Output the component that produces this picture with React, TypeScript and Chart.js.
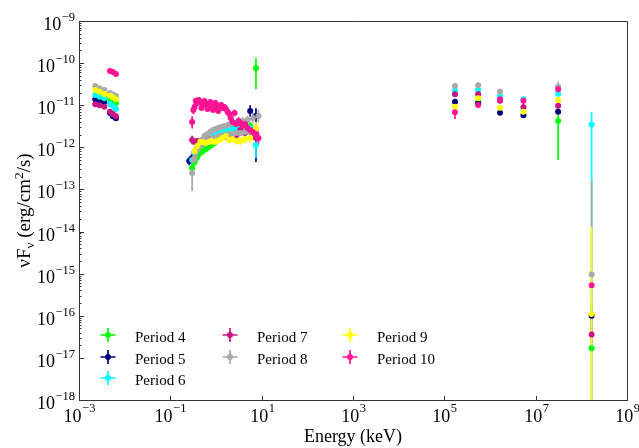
import React, { useEffect, useRef } from "react";
import { Chart, registerables } from "chart.js";

Chart.register(...registerables);

// ---------- data ----------
const PERIODS = ["Period 4", "Period 5", "Period 6", "Period 7", "Period 8", "Period 9", "Period 10"];
const COLORS = ["#00ff00", "#000080", "#00ffff", "#c71585", "#a9a9a9", "#ffff00", "#ff1493"];

// optical / UV photometry energies (keV)
const UVOT_E = [2.27e-3, 2.82e-3, 3.58e-3, 4.77e-3, 5.52e-3, 6.43e-3];
// X-ray energies (keV)
const XRT_E = [0.26, 0.3, 0.34, 0.39, 0.45, 0.52, 0.6, 0.7, 0.8, 0.92, 1.05, 1.2, 1.4, 1.65, 1.95, 2.3, 2.8, 3.4, 4.3, 5.6, 7.5];
const XRT_E_MID = [0.32, 0.36, 0.42, 0.48, 0.56, 0.65, 0.75, 0.86, 0.98, 1.12, 1.3, 1.52, 1.8, 2.1, 2.55, 3.1, 3.85, 4.9, 6.4, 8.5];
// gamma-ray energies (keV)
const HE_E = [1.71e5, 5.5e5, 1.66e6, 5.4e6, 3.1e7, 1.68e8];

// fluxes (erg/cm2/s)
const P4_UVOT = [null, null, null, 1.4e-11, 1.26e-11, 1.13e-11];
const P5_UVOT = [1.38e-11, 1.26e-11, 1.21e-11, 6.5e-12, 5.5e-12, 4.9e-12];
const P6_UVOT = [1.75e-11, 1.59e-11, 1.46e-11, 1.07e-11, 9.6e-12, 8.1e-12];
const P7_UVOT = [1.05e-11, 9.95e-12, 9.2e-12, 7.0e-12, 6.2e-12, 5.5e-12];
const P8_UVOT = [2.86e-11, 2.52e-11, 2.3e-11, 1.95e-11, 1.8e-11, 1.66e-11];
const P9_UVOT = [2.3e-11, 2.09e-11, 1.85e-11, 1.68e-11, 1.54e-11, 1.38e-11];
const P10_UVOT = [null, null, null, 6.49e-11, 6.15e-11, 5.51e-11];

const P4_XRT = [null, 3.22e-13, 4.48e-13, 5.88e-13, 7.32e-13, 8.17e-13, 9.11e-13, 1.02e-12, 1.13e-12, 1.26e-12, 1.49e-12, 1.76e-12, 1.96e-12, 2.19e-12, 2.44e-12, 2.58e-12, 2.72e-12, 2.87e-12, 3.04e-12, 3.21e-12, 7.5e-11];
const P5_XRT = [4.73e-13, 5.57e-13, 7.74e-13, 9.62e-13, 1.2e-12, 1.41e-12, 1.66e-12, 1.86e-12, 2.07e-12, 2.19e-12, 2.31e-12, 2.44e-12, 2.58e-12, 2.72e-12, 2.87e-12, 2.87e-12, 3.04e-12, 3.21e-12, 3.58e-12, 7.28e-12, 5.54e-12];
const P6_XRT = [null, 4.99e-13, 7.32e-13, 9.62e-13, 1.2e-12, 1.41e-12, 1.66e-12, 1.86e-12, 1.96e-12, 2.07e-12, 2.19e-12, 2.31e-12, 2.44e-12, 2.58e-12, 2.72e-12, 2.72e-12, 2.87e-12, 2.87e-12, 3.04e-12, 2.87e-12, 1.13e-12];
const P7_XRT = [null, 1.49e-12, 1.34e-12, 1.41e-12, 1.41e-12, 1.49e-12, 1.49e-12, 1.57e-12, 1.57e-12, 1.66e-12, 1.66e-12, 1.66e-12, 1.76e-12, 1.76e-12, 1.76e-12, 1.86e-12, 1.96e-12, 2.58e-12, 2.19e-12, 2.44e-12, 1.66e-12];
const P8_XRT = [null, 2.45e-13, 5.57e-13, 8.63e-13, 1.07e-12, 1.2e-12, 1.34e-12, 1.49e-12, 1.57e-12, 1.66e-12, 1.76e-12, 1.86e-12, 1.96e-12, 1.96e-12, 2.07e-12, 2.07e-12, 2.19e-12, 2.19e-12, 2.31e-12, 2.31e-12, 2.58e-12];
const P8_XRT_MID = [4.99e-13, 7.32e-13, 1.07e-12, 1.49e-12, 1.86e-12, 2.07e-12, 2.31e-12, 2.58e-12, 2.72e-12, 2.87e-12, 3.04e-12, 3.21e-12, 3.39e-12, 3.58e-12, 3.78e-12, 3.99e-12, 4.22e-12, 4.45e-12, 4.97e-12, 5.54e-12];
const P9_XRT = [null, null, 8.17e-13, 1.07e-12, 1.34e-12, 1.34e-12, 1.26e-12, 1.34e-12, 1.41e-12, 1.34e-12, 1.41e-12, 1.49e-12, 1.66e-12, 1.86e-12, 1.49e-12, 1.57e-12, 1.41e-12, 1.41e-12, 1.57e-12, 1.66e-12, 2.87e-12];
const P10_XRT = [null, 3.99e-12, 9.06e-12, 1.128e-11, 1.191e-11, 1.068e-11, 1.011e-11, 1.068e-11, 9.57e-12, 1.011e-11, 9.06e-12, 9.57e-12, 8.58e-12, 8.12e-12, 6.18e-12, 3.99e-12, 3.58e-12, 3.78e-12, 3.58e-12, 2.58e-12, 2.07e-12];
const P10_XRT_MID = [7.69e-12, 1.259e-11, 1.33e-11, 8.58e-12, 1.259e-11, 8.12e-12, 1.191e-11, 7.69e-12, 1.128e-11, 7.28e-12, 1.011e-11, 9.06e-12, 6.89e-12, 4.97e-12, 6.53e-12, 4.22e-12, 3.21e-12, 2.87e-12, 2.31e-12, 1.66e-12];

const P4_HE = [null, 1.21e-11, null, null, 4.2e-12, 1.7e-17];
const P5_HE = [1.21e-11, 1.11e-11, 6.6e-12, 5.75e-12, 7.0e-12, 1.0e-16];
const P6_HE = [2.21e-11, 2.33e-11, 1.68e-11, 1.38e-11, 1.87e-11, 3.5e-12];
const P7_HE = [1.82e-11, 1.82e-11, 1.28e-11, 8.9e-12, 9.7e-12, 3.6e-17];
const P8_HE = [2.86e-11, 2.97e-11, 2.09e-11, null, 2.75e-11, 9.6e-16];
const P9_HE = [9.2e-12, 1.46e-11, 8.7e-12, 7.0e-12, 1.33e-11, 1.1e-16];
const P10_HE = [6.8e-12, 1.01e-11, 1.38e-11, 1.28e-11, 2.39e-11, 5.3e-16];

// symmetric errors (dex)
const P4_XRT_ERR = [0, 0.12, 0.1, 0.09, 0.08, 0.08, 0.07, 0.07, 0.07, 0.06, 0.06, 0.06, 0.06, 0.06, 0.06, 0.07, 0.07, 0.08, 0.09, 0.1, 0];
const P5_XRT_ERR = [0.1, 0.1, 0.08, 0.07, 0.06, 0.06, 0.05, 0.05, 0.05, 0.05, 0.05, 0.05, 0.05, 0.05, 0.06, 0.06, 0.07, 0.08, 0.1, 0.14, 0];
const P6_XRT_ERR = [0, 0.1, 0.08, 0.07, 0.06, 0.06, 0.05, 0.05, 0.05, 0.05, 0.05, 0.05, 0.05, 0.05, 0.06, 0.06, 0.07, 0.08, 0.1, 0.14, 0.3];
const P7_XRT_ERR = [0, 0.1, 0.08, 0.07, 0.06, 0.06, 0.06, 0.06, 0.06, 0.06, 0.06, 0.06, 0.06, 0.06, 0.07, 0.07, 0.08, 0.1, 0.12, 0.14, 0.18];
const P8_XRT_ERR = [0, 0, 0.12, 0.08, 0.07, 0.06, 0.06, 0.06, 0.05, 0.05, 0.05, 0.05, 0.05, 0.05, 0.06, 0.06, 0.07, 0.08, 0.1, 0.12, 0.15];
const P8_XRT_MID_ERR = [0.1, 0.08, 0.07, 0.06, 0.06, 0.05, 0.05, 0.05, 0.05, 0.05, 0.05, 0.05, 0.06, 0.06, 0.07, 0.08, 0.09, 0.1, 0.12, 0.15];
const P9_XRT_ERR = [0, 0, 0.1, 0.08, 0.07, 0.06, 0.06, 0.06, 0.06, 0.06, 0.06, 0.06, 0.06, 0.06, 0.07, 0.07, 0.08, 0.09, 0.1, 0.12, 0.15];
const P10_XRT_ERR = [0, 0, 0.1, 0.08, 0.07, 0.07, 0.06, 0.06, 0.06, 0.06, 0.06, 0.06, 0.06, 0.07, 0.08, 0.08, 0.09, 0.1, 0.1, 0.12, 0.14];
const P10_XRT_MID_ERR = [0.1, 0.08, 0.07, 0.07, 0.06, 0.06, 0.06, 0.06, 0.06, 0.06, 0.06, 0.07, 0.07, 0.08, 0.08, 0.09, 0.1, 0.1, 0.12, 0.14];

const P4_HE_ERR = [0, 0.03, 0, 0, 0, 0.1];
const P5_HE_ERR = [0.03, 0.03, 0.03, 0.03, 0.04, 0.2];
const P6_HE_ERR = [0.03, 0.03, 0.03, 0.04, 0.03, 0];
const P7_HE_ERR = [0.03, 0.03, 0.03, 0.04, 0.04, 0.2];
const P8_HE_ERR = [0.03, 0.03, 0.03, 0, 0, 0];
const P9_HE_ERR = [0.03, 0.03, 0.03, 0.03, 0.04, 0];
const P10_HE_ERR = [0, 0.03, 0.03, 0, 0.04, 0];

// asymmetric error bars: [period index, group, point index, lower, upper]  (lower 0 = down to axis)
const ASYM_ERRORS: [number, string, number, number, number][] = [
  [0, "xrt", 20, 2.39e-11, 1.32e-10],
  [1, "xrt", 20, 4.5e-13, 8.5e-12],
  [4, "xrt", 1, 9e-14, 3.6e-13],
  [6, "xrt", 1, 2.8e-12, 5.5e-12],
  [6, "he", 0, 4.7e-12, 7.7e-12],
  [6, "he", 3, 9e-12, 1.6e-11],
  [4, "he", 4, 2.3e-11, 3.6e-11],
  [0, "he", 4, 5.0e-13, 8.6e-12],
  [2, "he", 5, 0, 7.0e-12],
  [4, "he", 5, 0, 1.67e-13],
  [5, "he", 5, 0, 1.3e-14],
];

const X_TICK_EXPS = [-3, -1, 1, 3, 5, 7, 9];
const Y_TICK_EXPS = [-9, -10, -11, -12, -13, -14, -15, -16, -17, -18];

// ---------- build ----------
type Pt = { x: number; y: number; lo: number | null; hi: number | null };

function group(pi: number, name: string, es: number[], fs: (number | null)[], errs: number[] | null): Pt[] {
  const out: Pt[] = [];
  es.forEach((e, i) => {
    const f = fs[i];
    if (f == null) return;
    let lo: number | null = null;
    let hi: number | null = null;
    const d = errs ? errs[i] : 0;
    if (d > 0) {
      lo = f / Math.pow(10, d);
      hi = f * Math.pow(10, d);
    }
    const a = ASYM_ERRORS.find((r) => r[0] === pi && r[1] === name && r[2] === i);
    if (a) {
      lo = a[3];
      hi = a[4];
    }
    out.push({ x: e, y: f, lo, hi });
  });
  return out;
}

const PERIOD_POINTS: Pt[][] = [
  [...group(0, "uvot", UVOT_E, P4_UVOT, null), ...group(0, "xrt", XRT_E, P4_XRT, P4_XRT_ERR), ...group(0, "he", HE_E, P4_HE, P4_HE_ERR)],
  [...group(1, "uvot", UVOT_E, P5_UVOT, null), ...group(1, "xrt", XRT_E, P5_XRT, P5_XRT_ERR), ...group(1, "he", HE_E, P5_HE, P5_HE_ERR)],
  [...group(2, "uvot", UVOT_E, P6_UVOT, null), ...group(2, "xrt", XRT_E, P6_XRT, P6_XRT_ERR), ...group(2, "he", HE_E, P6_HE, P6_HE_ERR)],
  [...group(3, "uvot", UVOT_E, P7_UVOT, null), ...group(3, "xrt", XRT_E, P7_XRT, P7_XRT_ERR), ...group(3, "he", HE_E, P7_HE, P7_HE_ERR)],
  [
    ...group(4, "uvot", UVOT_E, P8_UVOT, null),
    ...group(4, "xrt", XRT_E, P8_XRT, P8_XRT_ERR),
    ...group(4, "xrtmid", XRT_E_MID, P8_XRT_MID, P8_XRT_MID_ERR),
    ...group(4, "he", HE_E, P8_HE, P8_HE_ERR),
  ],
  [...group(5, "uvot", UVOT_E, P9_UVOT, null), ...group(5, "xrt", XRT_E, P9_XRT, P9_XRT_ERR), ...group(5, "he", HE_E, P9_HE, P9_HE_ERR)],
  [
    ...group(6, "uvot", UVOT_E, P10_UVOT, null),
    ...group(6, "xrt", XRT_E, P10_XRT, P10_XRT_ERR),
    ...group(6, "xrtmid", XRT_E_MID, P10_XRT_MID, P10_XRT_MID_ERR),
    ...group(6, "he", HE_E, P10_HE, P10_HE_ERR),
  ],
];

const SERIF = '"Liberation Serif", "Times New Roman", serif';
const AXIS_COLOR = "#333333";

// ---------- plugins ----------
const errorBarPlugin = {
  id: "errorBars",
  beforeDatasetsDraw(chart: any) {
    const { ctx, chartArea: ca, scales } = chart;
    const xs = scales.x;
    const ys = scales.y;
    ctx.save();
    ctx.beginPath();
    ctx.rect(ca.left, ca.top, ca.right - ca.left, ca.bottom - ca.top);
    ctx.clip();
    ctx.lineWidth = 1.7;
    chart.data.datasets.forEach((ds: any) => {
      ctx.strokeStyle = ds.backgroundColor;
      ds.data.forEach((p: Pt) => {
        if (p.lo == null || p.hi == null) return;
        const px = xs.getPixelForValue(p.x);
        const yl = p.lo > 0 ? ys.getPixelForValue(p.lo) : ca.bottom + 2;
        const yh = ys.getPixelForValue(p.hi);
        ctx.beginPath();
        ctx.moveTo(px, yl);
        ctx.lineTo(px, yh);
        ctx.stroke();
      });
    });
    ctx.restore();
  },
};

function drawPow(ctx: CanvasRenderingContext2D, exp: number, x: number, baseY: number, supY: number, align: "right" | "center") {
  const base = "10";
  const sup = (exp < 0 ? "\u2212" : "") + Math.abs(exp);
  ctx.font = `18px ${SERIF}`;
  const wb = ctx.measureText(base).width;
  ctx.font = `12.5px ${SERIF}`;
  const ws = ctx.measureText(sup).width;
  const total = wb + ws + 0.5;
  const start = align === "right" ? x - total : x - total / 2;
  ctx.textAlign = "left";
  ctx.textBaseline = "alphabetic";
  ctx.font = `18px ${SERIF}`;
  ctx.fillText(base, start, baseY);
  ctx.font = `12.5px ${SERIF}`;
  ctx.fillText(sup, start + wb + 0.5, supY);
}

const decorPlugin = {
  id: "decor",
  afterDraw(chart: any) {
    const { ctx, chartArea: ca, scales } = chart;
    const xs = scales.x;
    const ys = scales.y;
    ctx.save();
    // frame (top & right)
    ctx.strokeStyle = AXIS_COLOR;
    ctx.lineWidth = 1;
    ctx.beginPath();
    ctx.moveTo(ca.left, Math.round(ca.top) + 0.5);
    ctx.lineTo(Math.round(ca.right) + 0.5, Math.round(ca.top) + 0.5);
    ctx.lineTo(Math.round(ca.right) + 0.5, ca.bottom);
    ctx.stroke();

    // y ticks (inward) + labels
    ctx.fillStyle = "#000";
    Y_TICK_EXPS.forEach((e) => {
      const v = Math.pow(10, e);
      const py = Math.round(ys.getPixelForValue(v)) + 0.5;
      ctx.beginPath();
      ctx.moveTo(ca.left, py);
      ctx.lineTo(ca.left + 5, py);
      ctx.stroke();
      if (e > Y_TICK_EXPS[Y_TICK_EXPS.length - 1]) {
        for (let k = 2; k <= 9; k++) {
          const my = Math.round(ys.getPixelForValue(k * v)) + 0.5;
          if (my < ca.top) continue;
          ctx.beginPath();
          ctx.moveTo(ca.left, my);
          ctx.lineTo(ca.left + 2.5, my);
          ctx.stroke();
        }
      }
      drawPow(ctx, e, ca.left - 4, py + 8, py - 0.5, "right");
    });

    // x ticks (inward) + labels
    X_TICK_EXPS.forEach((e) => {
      const px = Math.round(xs.getPixelForValue(Math.pow(10, e))) + 0.5;
      ctx.beginPath();
      ctx.moveTo(px, ca.bottom);
      ctx.lineTo(px, ca.bottom - 4);
      ctx.stroke();
      drawPow(ctx, e, px, ca.bottom + 22, ca.bottom + 12, "center");
    });

    // x title
    ctx.font = `18px ${SERIF}`;
    ctx.textAlign = "center";
    ctx.textBaseline = "alphabetic";
    ctx.fillText("Energy (keV)", (ca.left + ca.right) / 2, ca.bottom + 42);

    // y title: νF_ν (erg/cm^2/s)
    const parts: [string, number, number][] = [
      ["\u03bdF", 19, 0],
      ["\u03bd", 13.3, 4],
      [" (erg/cm", 19, 0],
      ["2", 13.3, -7.5],
      ["/s)", 19, 0],
    ];
    let tw = 0;
    parts.forEach(([t, s]) => {
      ctx.font = `${s}px ${SERIF}`;
      tw += ctx.measureText(t).width;
    });
    ctx.save();
    ctx.translate(30, (ca.top + ca.bottom) / 2);
    ctx.rotate(-Math.PI / 2);
    ctx.textAlign = "left";
    let cx = -tw / 2;
    parts.forEach(([t, s, dy]) => {
      ctx.font = `${s}px ${SERIF}`;
      ctx.fillText(t, cx, dy);
      cx += ctx.measureText(t).width;
    });
    ctx.restore();

    // legend (3 columns, column-major)
    const colX = [108, 230, 350];
    const rowY = [335, 357, 378];
    const perCol = [3, 2, 2];
    let idx = 0;
    perCol.forEach((n, c) => {
      for (let r = 0; r < n; r++) {
        const mx = colX[c];
        const my = rowY[r];
        const col = COLORS[idx];
        ctx.strokeStyle = col;
        ctx.lineWidth = 1.7;
        ctx.beginPath();
        ctx.moveTo(mx - 7.5, my);
        ctx.lineTo(mx + 7.5, my);
        ctx.moveTo(mx, my - 7);
        ctx.lineTo(mx, my + 7);
        ctx.stroke();
        ctx.fillStyle = col;
        ctx.beginPath();
        ctx.arc(mx, my, 3, 0, Math.PI * 2);
        ctx.fill();
        ctx.fillStyle = "#000";
        ctx.font = `15px ${SERIF}`;
        ctx.textAlign = "left";
        ctx.textBaseline = "alphabetic";
        ctx.fillText(PERIODS[idx], mx + 27, my + 6.5);
        idx++;
      }
    });
    ctx.restore();
  },
};

export default function App() {
  const ref = useRef<HTMLCanvasElement | null>(null);
  useEffect(() => {
    if (!ref.current) return;
    const datasets = PERIOD_POINTS.map((pts, i) => ({
      label: PERIODS[i],
      data: pts,
      backgroundColor: COLORS[i],
      borderColor: COLORS[i],
      pointBackgroundColor: COLORS[i],
      pointBorderWidth: 0,
      pointRadius: 3,
      pointHoverRadius: 3,
      showLine: false,
      order: PERIODS.length - 1 - i,
    }));
    const chart = new Chart(ref.current, {
      type: "scatter",
      data: { datasets },
      options: {
        animation: false,
        responsive: false,
        devicePixelRatio: 1,
        events: [],
        layout: { padding: { left: 79, right: 12, top: 21, bottom: 48 } },
        plugins: { legend: { display: false }, tooltip: { enabled: false } },
        scales: {
          x: {
            type: "logarithmic",
            min: 1e-3,
            max: 1e9,
            grid: { display: false, drawTicks: false },
            ticks: { display: false },
            border: { display: true, color: AXIS_COLOR, width: 1 },
            afterFit: (s: any) => {
              s.height = 0;
            },
          },
          y: {
            type: "logarithmic",
            min: 1e-18,
            max: 1e-9,
            grid: { display: false, drawTicks: false },
            ticks: { display: false },
            border: { display: true, color: AXIS_COLOR, width: 1 },
            afterFit: (s: any) => {
              s.width = 0;
            },
          },
        },
      } as any,
      plugins: [errorBarPlugin, decorPlugin],
    });
    return () => chart.destroy();
  }, []);
  return (
    <div style={{ position: "absolute", left: 0, top: 0, width: 639, height: 448, background: "#fff" }}>
      <canvas ref={ref} width={639} height={448} style={{ display: "block" }} />
    </div>
  );
}
